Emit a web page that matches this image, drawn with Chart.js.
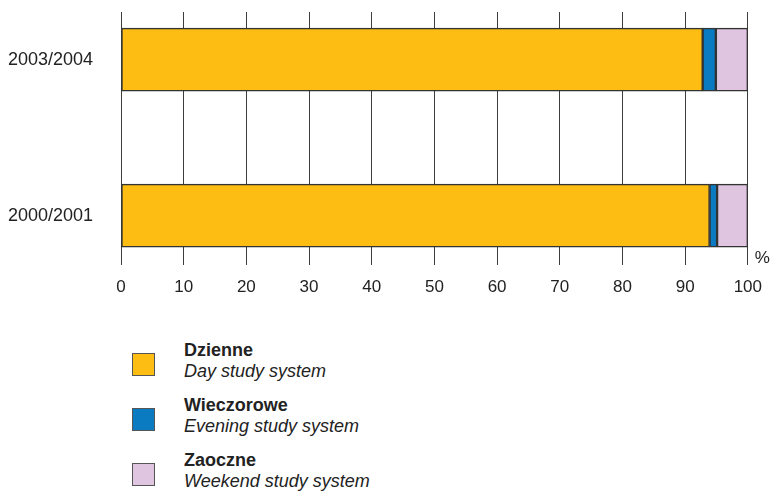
<!DOCTYPE html>
<html>
<head>
<meta charset="utf-8">
<script src="https://cdn.jsdelivr.net/npm/chart.js@4"></script>
<style>
  body { margin: 0; background: #fff; font-family: "Liberation Sans", Arial, sans-serif; }
  #wrap { position: relative; width: 774px; height: 493px; }
  #chartBox { position: absolute; left: 0; top: 0; width: 774px; height: 310px; }
  #legend { position: absolute; left: 0; top: 0; }
  .item { position: absolute; left: 132px; width: 400px; height: 46px; }
  .box { position: absolute; left: 0; top: 13px; width: 21px; height: 21px; border: 1px solid #555; }
  .txt { position: absolute; left: 52px; top: 0; font-size: 18px; line-height: 21px; color: #222; white-space: nowrap; }
  .txt b { font-weight: bold; }
  .txt i { font-style: italic; }
</style>
</head>
<body>
<div id="wrap">
  <div id="chartBox"><canvas id="chart"></canvas></div>
  <div id="legend"></div>
</div>
<script>
// 数据
const categories = ['2003/2004', '2000/2001'];
const seriesNames = ['Dzienne', 'Wieczorowe', 'Zaoczne'];
const seriesNamesEn = ['Day study system', 'Evening study system', 'Weekend study system'];
const dzienne = [92.8, 93.9];
const wieczorowe = [2.1, 1.2];
const zaoczne = [5.1, 4.9];
const xTicks = [0, 10, 20, 30, 40, 50, 60, 70, 80, 90, 100];

const COLORS = ['#fdbd13', '#0a7bc1', '#dfc5df'];
const seriesValues = [dzienne, wieczorowe, zaoczne];

const FONT = '"Liberation Sans", Arial, sans-serif';

function toPoints(values) {
  return values.map((v, i) => ({ x: v, y: i }));
}

// "%" 单位标注
const percentLabel = {
  id: 'percentLabel',
  afterDraw(chart) {
    const { ctx, scales } = chart;
    const x = scales.x.getPixelForValue(100) + 7;
    ctx.save();
    ctx.font = '17px ' + FONT;
    ctx.fillStyle = '#222';
    ctx.textAlign = 'left';
    ctx.textBaseline = 'middle';
    ctx.fillText('%', x, chart.chartArea.bottom - 7);
    ctx.restore();
  }
};

const chart = new Chart(document.getElementById('chart'), {
  type: 'bar',
  data: {
    datasets: seriesValues.map((vals, i) => ({
      label: seriesNames[i],
      data: toPoints(vals),
      backgroundColor: COLORS[i],
      borderColor: '#333',
      borderWidth: 1.5,
      borderSkipped: false,
      barThickness: 63
    }))
  },
  options: {
    indexAxis: 'y',
    responsive: true,
    maintainAspectRatio: false,
    animation: false,
    layout: { padding: { top: 12, right: 26, left: 0, bottom: 0 } },
    plugins: {
      legend: { display: false },
      tooltip: { enabled: false }
    },
    scales: {
      x: {
        type: 'linear',
        stacked: true,
        min: 0,
        max: 100,
        afterBuildTicks: s => { s.ticks = xTicks.map(v => ({ value: v })); },
        afterFit: s => { s.height = 45; },
        border: { display: false },
        grid: { color: '#3c3c3c', lineWidth: 1, drawTicks: false },
        ticks: { padding: 12, color: '#222', font: { family: FONT, size: 17 } }
      },
      y: {
        type: 'linear',
        stacked: true,
        reverse: true,
        offset: false,
        min: -0.305,
        max: 1.317,
        afterBuildTicks: s => { s.ticks = categories.map((c, i) => ({ value: i })); },
        afterFit: s => { s.width = 121; s.paddingTop = 0; s.paddingBottom = 0; },
        border: { display: false },
        grid: { display: false, offset: false, drawTicks: false },
        ticks: {
          padding: 28,
          color: '#222',
          font: { family: FONT, size: 18 },
          callback: v => categories[v]
        }
      }
    }
  },
  plugins: [percentLabel]
});

// 图例
const legendEl = document.getElementById('legend');
chart.data.datasets.forEach((ds, i) => {
  const item = document.createElement('div');
  item.className = 'item';
  item.style.top = (340 + i * 55) + 'px';
  item.innerHTML = '<div class="box" style="background:' + ds.backgroundColor + '"></div>' +
    '<div class="txt"><b>' + ds.label + '</b><br><i>' + seriesNamesEn[i] + '</i></div>';
  legendEl.appendChild(item);
});
</script>
</body>
</html>
